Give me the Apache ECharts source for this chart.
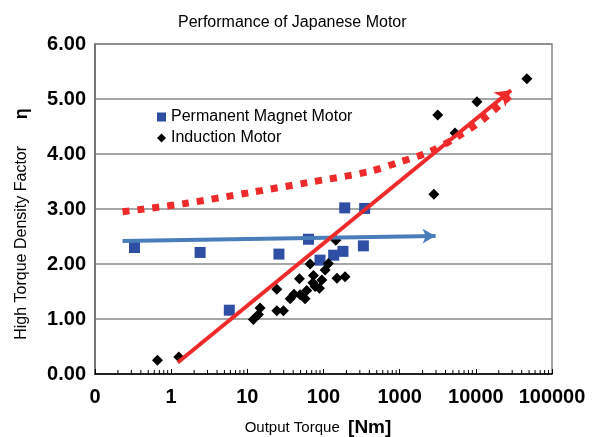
<!DOCTYPE html>
<html>
<head>
<meta charset="utf-8">
<script src="https://cdn.jsdelivr.net/npm/echarts@6/dist/echarts.min.js"></script>
<style>html,body{margin:0;padding:0;background:#fff}#c{width:602px;height:437px}</style>
</head>
<body>
<div id="c"></div>
<script>
// Permanent magnet motors: output torque [Nm] and factor
const pmTorque = [0.33, 2.4, 5.8, 26, 63.5, 90, 136, 180, 334, 190, 347];
const pmFactor = [2.30, 2.21, 1.16, 2.18, 2.45, 2.07, 2.16, 2.23, 2.33, 3.02, 3.01];
// Induction motors
const imTorque = [0.66, 1.26, 12.0, 14, 14.7, 24.4, 24.4, 29.8, 36.5, 41, 48.3, 49.3, 57.3, 60.3, 66.7, 73.8, 72.6, 77.6, 88.3, 95, 105, 116, 145, 150, 192, 2812, 3160, 5330, 10350, 46800];
const imFactor = [0.25, 0.31, 0.99, 1.08, 1.20, 1.54, 1.15, 1.15, 1.37, 1.45, 1.73, 1.44, 1.37, 1.52, 2.00, 1.79, 1.66, 1.59, 1.56, 1.71, 1.89, 2.01, 2.43, 1.74, 1.77, 3.27, 4.71, 4.38, 4.95, 5.37];
// Trend arrows (start, end)
const pmTrendTorque = [0.23, 2960];
const pmTrendFactor = [2.42, 2.51];
const imTrendTorque = [1.22, 29000];
const imTrendFactor = [0.21, 5.16];
// Dotted curve
const curveTorque = [0.23, 1.51, 10.9, 62, 398, 977, 2480, 5630, 12200, 27800];
const curveFactor = [2.95, 3.10, 3.30, 3.48, 3.68, 3.85, 4.04, 4.31, 4.62, 5.05];
// Axis ticks
const yTicks = [0, 1, 2, 3, 4, 5, 6];
const xDecades = [0.1, 1, 10, 100, 1000, 10000];
const minorMantissas = [2, 3, 4, 5, 6, 7, 8, 9];

const minorTicks = [];
xDecades.forEach(d => minorMantissas.forEach(m => minorTicks.push([+(d * m).toPrecision(3), 0])));

const FONT = 'Liberation Sans, Arial, sans-serif';
const RED = '#ee2a2a';
const chart = echarts.init(document.getElementById('c'), null, {renderer: 'canvas'});
chart.setOption({
  animation: false,
  backgroundColor: '#fff',
  title: {
    text: 'Performance of Japanese Motor',
    left: 178, top: 15, padding: 0,
    textStyle: {fontFamily: FONT, fontSize: 16, fontWeight: 'normal', color: '#000'}
  },
  legend: {
    orient: 'vertical', left: 157, top: 109, padding: 0,
    itemWidth: 9, itemHeight: 9, itemGap: 5,
    textStyle: {fontFamily: FONT, fontSize: 16, color: '#000'},
    data: [{name: 'Permanent Magnet Motor', icon: 'rect'}, {name: 'Induction Motor', icon: 'diamond'}]
  },
  grid: {left: 95, right: 50, top: 44, bottom: 63, show: true, borderColor: '#888', borderWidth: 1.5, backgroundColor: 'transparent'},
  xAxis: {
    type: 'log', logBase: 10, min: 0.1, max: 100000,
    axisLine: {lineStyle: {color: '#000', width: 1.5}},
    axisTick: {show: true, inside: true, length: 5, lineStyle: {color: '#000'}},
    splitLine: {show: false},
    axisLabel: {
      margin: 13, fontFamily: FONT, fontSize: 20, fontWeight: 'bold', color: '#000',
      formatter: v => (v < 1 ? '0' : String(Math.round(v)))
    }
  },
  yAxis: {
    type: 'value', min: 0, max: 6, interval: 1,
    axisLine: {show: true, lineStyle: {color: '#666', width: 1.5}},
    axisTick: {show: false},
    splitLine: {lineStyle: {color: '#888', width: 1.5}},
    axisLabel: {
      margin: 9, fontFamily: FONT, fontSize: 20, fontWeight: 'bold', color: '#000',
      formatter: v => v.toFixed(2)
    }
  },
  graphic: [
    {
      type: 'text', x: 22, y: 224, rotation: Math.PI / 2,
      style: {
        text: '{a|High Torque Density Factor      }{b|η}', align: 'center', verticalAlign: 'middle',
        rich: {a: {fontFamily: FONT, fontSize: 16, fill: '#000'}, b: {fontFamily: FONT, fontSize: 18, fontWeight: 'bold', fill: '#000'}}
      }
    },
    {
      type: 'text', x: 318, y: 428,
      style: {
        text: '{a|Output Torque  }{b|[Nm]}', align: 'center', verticalAlign: 'middle',
        rich: {a: {fontFamily: FONT, fontSize: 15, fill: '#000'}, b: {fontFamily: FONT, fontSize: 19, fontWeight: 'bold', fill: '#000'}}
      }
    }
  ],
  series: [
    {
      name: 'minor ticks', type: 'custom', silent: true, z: 3,
      renderItem: (params, api) => {
        const p = api.coord([api.value(0), api.value(1)]);
        return {type: 'line', shape: {x1: p[0], y1: p[1], x2: p[0], y2: p[1] - 4}, style: {stroke: '#000', lineWidth: 1}};
      },
      data: minorTicks
    },
    {
      name: 'Permanent Magnet Motor', type: 'scatter', symbol: 'rect', symbolSize: 11, z: 2,
      itemStyle: {color: '#2f4fa5', opacity: 1},
      data: pmTorque.map((x, i) => [x, pmFactor[i]])
    },
    {
      name: 'Induction Motor', type: 'scatter', symbol: 'diamond', symbolSize: 11, z: 2,
      itemStyle: {color: '#000', opacity: 1},
      data: imTorque.map((x, i) => [x, imFactor[i]])
    },
    {
      name: 'pm trend', type: 'line', data: [], z: 4,
      markLine: {
        silent: true, symbol: ['none', 'arrow'], symbolSize: [11, 13], label: {show: false},
        lineStyle: {type: 'solid', color: '#4a7ebb', width: 4, opacity: 1},
        data: [[{coord: [pmTrendTorque[0], pmTrendFactor[0]]}, {coord: [pmTrendTorque[1], pmTrendFactor[1]]}]]
      }
    },
    {
      name: 'curve', type: 'line', smooth: 0.3, symbol: 'none', z: 5, silent: true,
      lineStyle: {color: RED, width: 7, type: [7, 8], cap: 'butt'},
      data: curveTorque.map((x, i) => [x, curveFactor[i]])
    },
    {
      name: 'im trend', type: 'line', data: [], z: 6,
      markLine: {
        silent: true, symbol: ['none', 'arrow'], symbolSize: [14, 15], label: {show: false},
        lineStyle: {type: 'solid', color: RED, width: 4, opacity: 1},
        data: [[{coord: [imTrendTorque[0], imTrendFactor[0]]}, {coord: [imTrendTorque[1], imTrendFactor[1]]}]]
      }
    }
  ]
});
</script>
</body>
</html>
